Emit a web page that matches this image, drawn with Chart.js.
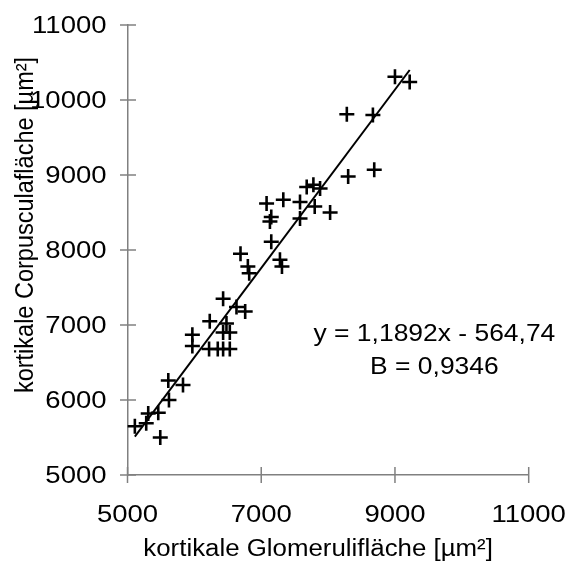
<!DOCTYPE html>
<html><head><meta charset="utf-8">
<script src="https://cdn.jsdelivr.net/npm/chart.js@4"></script>
<style>html,body{margin:0;padding:0;background:#fff}#wrap{width:568px;height:571px}</style>
</head><body><div id="wrap"><canvas id="c"></canvas></div>
<script>
// Data
const glomeruli  = [5110,5280,5310,5460,5490,5620,5610,5830,5970,5970,6230,6220,6350,6430,6530,6430,6530,6480,6430,6630,6760,6690,6800,6820,7150,7280,7310,7080,7150,7130,7330,7580,7800,7580,8030,7680,7780,7880,8300,8690,8280,8670,9000,9220];
const corpuscula = [5650,5690,5820,5830,5500,6000,6260,6200,6870,6720,7050,6680,6680,6680,6680,6900,6900,7020,7350,7240,7180,7950,7780,7690,8110,7870,7780,8620,8440,8380,8670,8640,8580,8420,8500,8840,8870,8820,8980,9070,9810,9800,10310,10240];
const slope = 1.1892;
const intercept = -564.74;
const equationLabel = 'y = 1,1892x - 564,74';
const bLabel = 'B = 0,9346';
const xTitle = 'kortikale Glomerulifläche [µm²]';
const yTitle = 'kortikale Corpusculafläche [µm²]';
const xTickValues = [5000, 7000, 9000, 11000];
const yTickValues = [5000, 6000, 7000, 8000, 9000, 10000, 11000];

const FONT = '"Liberation Sans", Arial, sans-serif';
const points = glomeruli.map((x, i) => ({x, y: corpuscula[i]}));
const xMin = Math.min(...glomeruli), xMax = Math.max(...glomeruli);
const trend = [xMin, xMax].map(x => ({x, y: slope * x + intercept}));

function wideText(ctx, text, x, y, sx, align) {
  ctx.save();
  ctx.translate(x, y);
  ctx.scale(sx, 1);
  ctx.textAlign = align;
  ctx.fillText(text, 0, 0);
  ctx.restore();
}

const deco = {
  id: 'deco',
  afterDraw(chart) {
    const ctx = chart.ctx, xs = chart.scales.x, ys = chart.scales.y;
    const ca = chart.chartArea;
    ctx.save();
    ctx.strokeStyle = '#808080';
    ctx.lineWidth = 1.5;
    ys.ticks.forEach(t => {
      const p = ys.getPixelForValue(t.value);
      ctx.beginPath(); ctx.moveTo(ca.left - 7.5, p); ctx.lineTo(ca.left + 8.5, p); ctx.stroke();
    });
    xs.ticks.forEach(t => {
      const p = xs.getPixelForValue(t.value);
      ctx.beginPath(); ctx.moveTo(p, ca.bottom - 8); ctx.lineTo(p, ca.bottom + 8); ctx.stroke();
    });
    ctx.fillStyle = '#000';
    ctx.textBaseline = 'alphabetic';
    // tick labels
    ctx.font = '23.5px ' + FONT;
    xs.ticks.forEach(t => {
      wideText(ctx, String(t.value), xs.getPixelForValue(t.value), ca.bottom + 46.5, 1.17, 'center');
    });
    ys.ticks.forEach(t => {
      wideText(ctx, String(t.value), ca.left - 21, ys.getPixelForValue(t.value) + 8.4, 1.17, 'right');
    });
    // axis titles
    wideText(ctx, xTitle, (ca.left + ca.right) / 2 - 10, ca.bottom + 81, 1.1, 'center');
    ctx.save();
    ctx.translate(ca.left - 95, (ca.top + ca.bottom) / 2 - 25);
    ctx.scale(1.12, 1);
    ctx.rotate(-Math.PI / 2);
    ctx.textAlign = 'center';
    ctx.fillText(yTitle, 0, 0);
    ctx.restore();
    // regression annotation
    const ax = xs.getPixelForValue(9590);
    wideText(ctx, equationLabel, ax, ys.getPixelForValue(6790), 1.125, 'center');
    wideText(ctx, bLabel, ax, ys.getPixelForValue(6347), 1.125, 'center');
    ctx.restore();
  }
};

new Chart(document.getElementById('c'), {
  type: 'scatter',
  data: {
    datasets: [
      {
        data: points,
        pointStyle: 'cross',
        pointRadius: 7.5,
        pointHoverRadius: 7.5,
        borderColor: '#000',
        backgroundColor: '#000',
        pointBorderWidth: 2.6,
        borderWidth: 2.6
      },
      {
        type: 'line',
        data: trend,
        showLine: true,
        pointRadius: 0,
        borderColor: '#000',
        borderWidth: 2,
        fill: false
      }
    ]
  },
  options: {
    responsive: true,
    maintainAspectRatio: false,
    animation: false,
    events: [],
    layout: {padding: {top: 25, right: 39.3, left: 0, bottom: 0}},
    plugins: {legend: {display: false}, tooltip: {enabled: false}},
    scales: {
      x: {
        type: 'linear', min: 5000, max: 11000,
        afterBuildTicks: s => { s.ticks = xTickValues.map(v => ({value: v})); },
        afterFit: s => { s.height = 96; },
        grid: {display: false, drawTicks: false},
        border: {display: true, color: '#808080', width: 1.5},
        ticks: {display: false}
      },
      y: {
        type: 'linear', min: 5000, max: 11000,
        afterBuildTicks: s => { s.ticks = yTickValues.map(v => ({value: v})); },
        afterFit: s => { s.width = 127.5; },
        grid: {display: false, drawTicks: false},
        border: {display: true, color: '#808080', width: 1.5},
        ticks: {display: false}
      }
    }
  },
  plugins: [deco]
});
</script>
</body></html>
